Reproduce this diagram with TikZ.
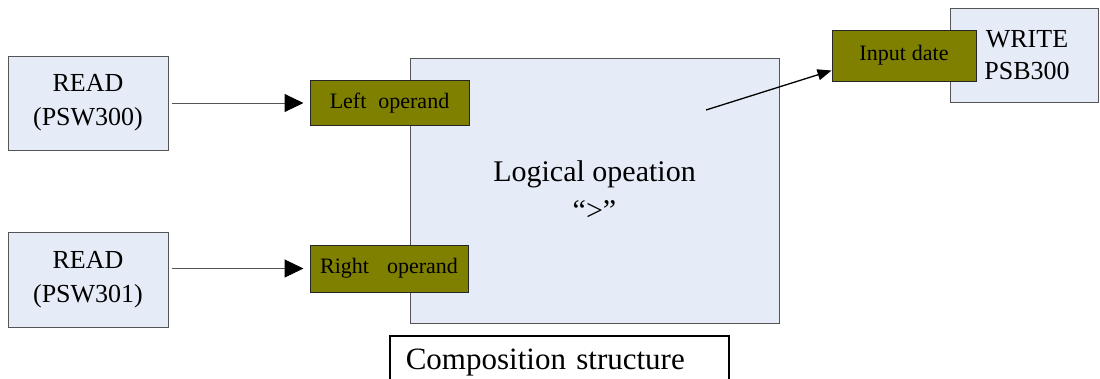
\documentclass[tikz,border=0pt]{standalone}
\usepackage{fontspec}
\setmainfont{Liberation Serif}
\usetikzlibrary{arrows.meta,positioning,calc}
\definecolor{boxblue}{RGB}{230,236,247}
\definecolor{olivefill}{RGB}{128,128,0}
\definecolor{edgegray}{RGB}{85,85,85}

\begin{document}
\begin{tikzpicture}[x=1pt, y=-1pt,
        block/.style={rectangle, draw=edgegray, fill=boxblue, line width=1pt,
                      align=center, inner sep=0pt, font=\fontsize{26}{34}\selectfont},
        port/.style={rectangle, draw=black!85, fill=olivefill, line width=1pt,
                     align=center, inner sep=0pt, minimum height=45, font=\fontsize{22}{26}\selectfont},
        arrow/.style={-{Triangle[length=19pt,width=18pt,black]}, line width=1pt, edgegray,
                      shorten <=3pt, shorten >=6pt},
        outarrow/.style={-{Triangle[length=14pt,width=11pt]}, line width=1.3pt, black}
    ]
    \useasboundingbox (0,0) rectangle (1100,378);
    \clip (0,0) rectangle (1100,378);

    \node[block, minimum width=160, minimum height=94] (read1) at (88,103) {READ\\(PSW300)};
    \node[block, minimum width=160, minimum height=95] (read2) at (88,279.5) {READ\\(PSW301)};

    \node[block, minimum width=369, minimum height=265, font=\fontsize{30}{39}\selectfont]
      (logic) at (594.5,190.5) {Logical opeation\\“>”};

    \node[port, minimum width=159] (lop) at (389.5,103) {Left\hspace{12pt}operand};
    \node[port, minimum width=158, minimum height=47] (rop) at (389,268.5) {Right\hspace{18pt}operand};

    \node[block, minimum width=148, minimum height=94, font=\fontsize{26}{32}\selectfont]
      (write) at (1024,55) {\hspace{6pt}WRITE\\\hspace{6pt}PSB300};
    \node[port, minimum width=144, minimum height=51] (indate) at (904,55.5) {Input\hspace{6pt}date};

    \node[draw=black, line width=1.6pt, anchor=north west, inner xsep=16pt, inner ysep=0pt,
          text width=307, text height=34, text depth=26, align=left,
          font=\fontsize{31}{36}\selectfont] (comp) at (389,335) {Composition structure};

    \draw[arrow] (read1.east) -- (lop.west);
    \draw[arrow] (read2.east |- rop.west) -- (rop.west);

    \coordinate (logicout) at (706,110);
    \draw[outarrow] (logicout) -- ([yshift=-15pt]indate.west);
\end{tikzpicture}
\end{document}
